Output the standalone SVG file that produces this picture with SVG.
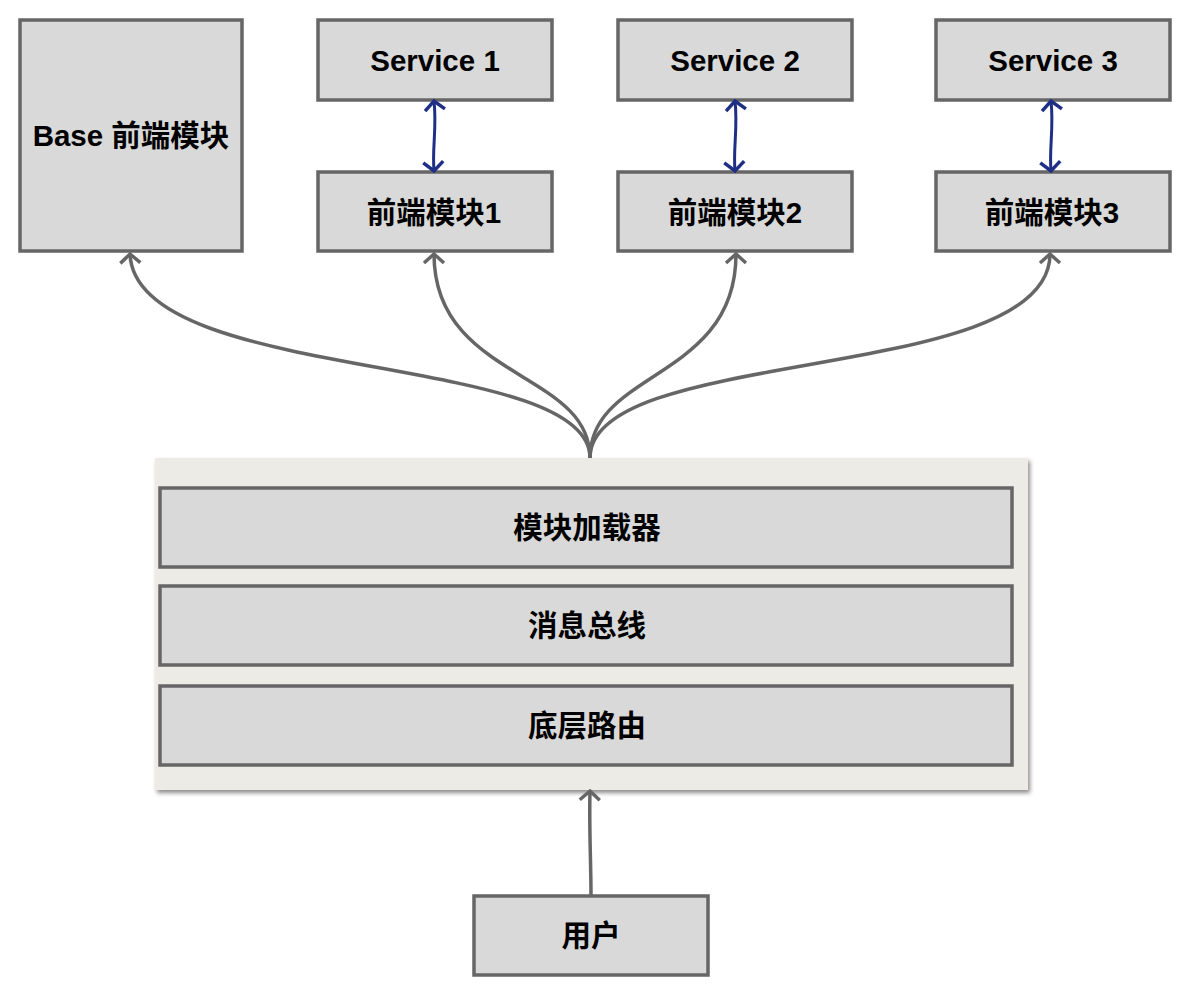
<svg xmlns="http://www.w3.org/2000/svg" width="1190" height="996" viewBox="0 0 1190 996">
<style>
.box{fill:#d9d9d9;stroke:#666;stroke-width:3.5}
.lbl{font-family:"Liberation Sans","Noto Sans CJK SC",sans-serif;font-weight:bold;font-size:29.5px;fill:#000;text-anchor:middle;dominant-baseline:central}
.gc{fill:none;stroke:#666;stroke-width:3.5;marker-end:url(#ga)}
.bc{fill:none;stroke:#1f2f86;stroke-width:3;marker-start:url(#ba);marker-end:url(#ba)}
</style>
<defs>
<marker id="ga" markerUnits="userSpaceOnUse" markerWidth="28" markerHeight="28" refX="14" refY="14" orient="auto" viewBox="0 0 28 28">
<path d="M5,4 L14,14 L5,24" fill="none" stroke="#666" stroke-width="3.5"/>
</marker>
<marker id="ba" markerUnits="userSpaceOnUse" markerWidth="28" markerHeight="28" refX="14" refY="14" orient="auto-start-reverse" viewBox="0 0 28 28">
<path d="M5,4 L14,14 L5,24" fill="none" stroke="#1f2f86" stroke-width="3.5"/>
</marker>
<filter id="sh" x="-5%" y="-5%" width="110%" height="115%">
<feDropShadow dx="2" dy="3" stdDeviation="2" flood-color="#000" flood-opacity="0.45"/>
</filter>
</defs>
<rect width="1190" height="996" fill="#fff"/>
<g id="base"><rect class="box" x="20" y="20" width="222" height="231"/><text class="lbl" x="131" y="135">Base 前端模块</text></g>
<g id="service1"><rect class="box" x="318" y="20" width="234" height="80"/><text class="lbl" x="435" y="60">Service 1</text></g>
<g id="service2"><rect class="box" x="618" y="20" width="234" height="80"/><text class="lbl" x="735" y="60">Service 2</text></g>
<g id="service3"><rect class="box" x="936" y="20" width="234" height="80"/><text class="lbl" x="1053" y="60">Service 3</text></g>
<g id="module1"><rect class="box" x="318" y="172" width="234" height="79"/><text class="lbl" x="434" y="212">前端模块1</text></g>
<g id="module2"><rect class="box" x="618" y="172" width="234" height="79"/><text class="lbl" x="735" y="212">前端模块2</text></g>
<g id="module3"><rect class="box" x="936" y="172" width="234" height="79"/><text class="lbl" x="1052" y="212">前端模块3</text></g>
<g id="platform">
<rect x="155" y="458" width="873" height="332" fill="#edebe6" filter="url(#sh)"/>
<g id="loader"><rect class="box" x="160" y="488" width="852" height="79"/><text class="lbl" x="587" y="527">模块加载器</text></g>
<g id="bus"><rect class="box" x="160" y="586" width="852" height="79"/><text class="lbl" x="587" y="625">消息总线</text></g>
<g id="router"><rect class="box" x="160" y="686" width="852" height="79"/><text class="lbl" x="587" y="725">底层路由</text></g>
</g>
<g id="user"><rect class="box" x="474" y="896" width="234" height="79"/><text class="lbl" x="591" y="935">用户</text></g>
<g id="connectors">
<path class="gc" d="M590,458 C590,350 135,385 130,254"/>
<path class="gc" d="M590,458 C590,370 434,380 434,254"/>
<path class="gc" d="M590,458 C590,370 736,380 736,254"/>
<path class="gc" d="M590,458 C590,345 1050,385 1050,254"/>
<path class="gc" d="M591,896 C591,860 589,830 590,791"/>
<path class="bc" d="M434,101 C437,128 432,148 434,171"/>
<path class="bc" d="M735,101 C738,128 733,148 735,171"/>
<path class="bc" d="M1051,101 C1054,128 1049,148 1051,171"/>
</g>
</svg>
